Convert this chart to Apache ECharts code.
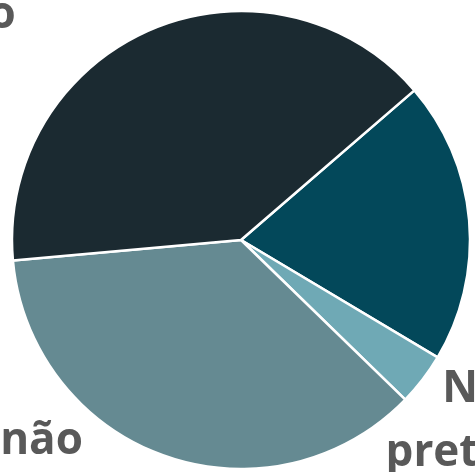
<!doctype html>
<html>
<head>
    <meta charset="UTF-8">
    <title>Pie</title>
    <script src="https://cdn.jsdelivr.net/npm/echarts@6/dist/echarts.min.js"></script>
    <style>
        html, body { margin: 0; padding: 0; background: #fff; }
        #main { width: 475px; height: 472px; }
    </style>
</head>
<body>
<div id="main"></div>
<script type="text/javascript">
    // categories and values (slice order: clockwise from the upper-right boundary)
    var categories = ['Talvez', 'Não\npretendo', 'Ainda não', 'Sim, pretendo'];
    var values = [19.9, 3.7, 36.3, 40.1];
    var colors = ['#03485A', '#6FA9B5', '#658A92', '#1B2A31'];

    // label nudges per slice (the labels spill past the canvas edge like the cropped original)
    var labelShift = [[0, 0], [-68, 30], [-60, -33], [-113, 5]];

    var myChart = echarts.init(document.getElementById('main'));

    var data = [];
    for (var i = 0; i < categories.length; i++) {
        data.push({
            name: categories[i],
            value: values[i],
            itemStyle: {color: colors[i]}
        });
    }

    var option = {
        backgroundColor: '#ffffff',
        animation: false,
        series: [{
            type: 'pie',
            // a big box so labels are not squeezed to fit inside the canvas
            left: -259,
            top: -260,
            width: 1000,
            height: 1000,
            center: ['50%', '50%'],
            radius: 229,
            startAngle: 40.8,
            clockwise: true,
            avoidLabelOverlap: false,
            data: data,
            itemStyle: {
                borderColor: '#ffffff',
                borderWidth: 2.5
            },
            label: {
                show: true,
                position: 'outside',
                formatter: function (p) {
                    return p.name.split('\n').map(function (s) {
                        return '{c|' + s + '}';
                    }).join('\n');
                },
                rich: {
                    c: {
                        align: 'center',
                        fontFamily: 'Open Sans',
                        fontWeight: 'bold',
                        fontSize: 44,
                        lineHeight: 64,
                        color: '#595959'
                    }
                }
            },
            labelLine: {
                show: false,
                length: 20,
                length2: 10
            },
            labelLayout: function (params) {
                var s = labelShift[params.dataIndex];
                return {dx: s[0], dy: s[1]};
            },
            emphasis: {disabled: true}
        }]
    };
    myChart.setOption(option);
</script>
</body>
</html>
